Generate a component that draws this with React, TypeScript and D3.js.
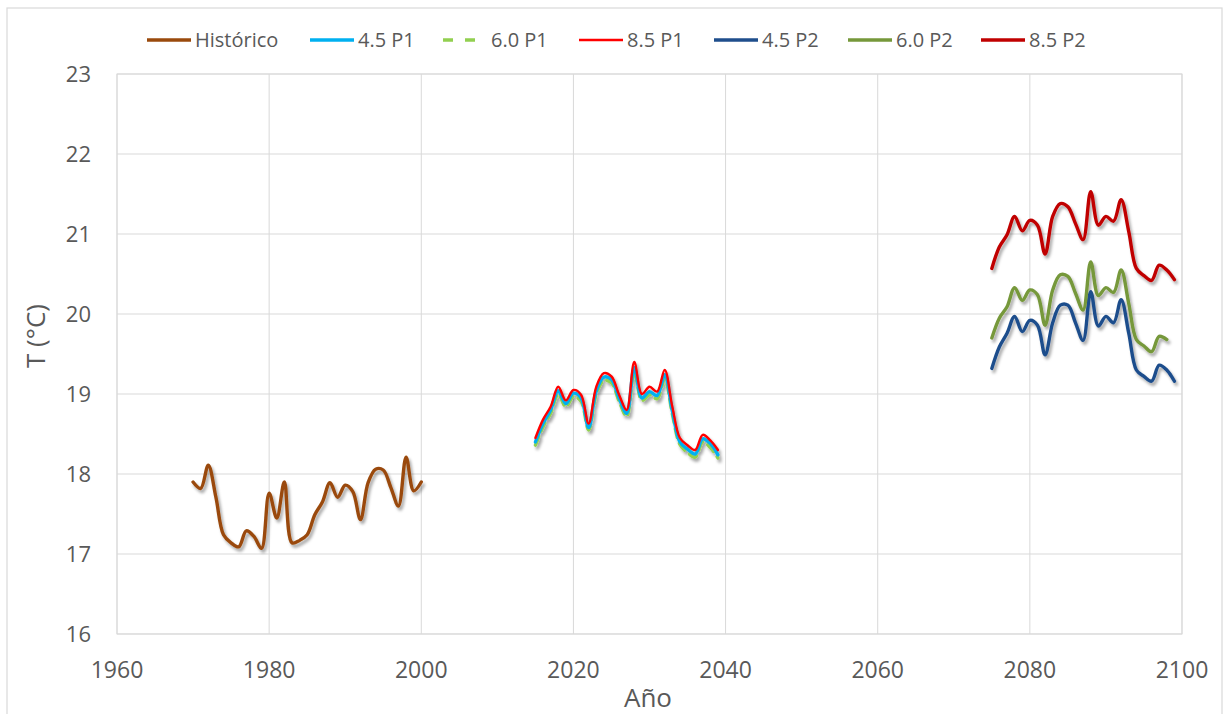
import React from "react";
import * as d3 from "d3";

// Mean annual temperature (°C): historical record and two projection periods
const histYears = d3.range(1970, 2001);
const histTemp = [
  17.9, 17.82, 18.11, 17.71, 17.24, 17.14, 17.09, 17.29, 17.22, 17.07,
  17.76, 17.45, 17.9, 17.14, 17.17, 17.24, 17.49, 17.65, 17.89, 17.71,
  17.86, 17.78, 17.43, 17.89, 18.06, 18.05, 17.83, 17.6, 18.21, 17.79, 17.9,
];

const p1Years = d3.range(2015, 2040);
const rcp45P1 = [
  18.4, 18.63, 18.8, 19.04, 18.88, 19.01, 18.95, 18.58, 19.04, 19.21,
  19.18, 18.95, 18.76, 19.33, 18.95, 19.03, 18.98, 19.24, 18.79, 18.4,
  18.31, 18.25, 18.44, 18.38, 18.24,
];
const rcp60P1 = [
  18.36, 18.59, 18.76, 19.0, 18.84, 18.97, 18.91, 18.55, 19.0, 19.17,
  19.14, 18.91, 18.72, 19.28, 18.92, 18.99, 18.94, 19.19, 18.75, 18.37,
  18.27, 18.21, 18.4, 18.33, 18.2,
];
const rcp85P1 = [
  18.45, 18.68, 18.84, 19.09, 18.92, 19.05, 18.99, 18.63, 19.09, 19.26,
  19.22, 18.99, 18.8, 19.4, 19.0, 19.09, 19.03, 19.3, 18.84, 18.45,
  18.36, 18.3, 18.49, 18.42, 18.3,
];

const p2Years = d3.range(2075, 2100);
const rcp45P2 = [
  19.32, 19.59, 19.76, 19.97, 19.78, 19.92, 19.86, 19.49, 19.89, 20.11,
  20.11, 19.89, 19.67, 20.28, 19.85, 19.97, 19.89, 20.18, 19.76, 19.3,
  19.22, 19.16, 19.36, 19.3, 19.16,
];
const rcp60P2 = [
  19.7, 19.95, 20.09, 20.33, 20.17, 20.3, 20.24, 19.86, 20.3, 20.49,
  20.47, 20.26, 20.05, 20.65, 20.23, 20.33, 20.27, 20.55, 20.13, 19.68,
  19.6, 19.53, 19.72, 19.68,
];
const rcp85P2 = [
  20.57, 20.84, 20.99, 21.22, 21.04, 21.17, 21.11, 20.75, 21.22, 21.38,
  21.34, 21.13, 20.93, 21.53, 21.11, 21.22, 21.16, 21.43, 21.03, 20.57,
  20.48, 20.42, 20.61, 20.55, 20.43,
];

const xTicks = [1960, 1980, 2000, 2020, 2040, 2060, 2080, 2100];
const yTicks = [16, 17, 18, 19, 20, 21, 22, 23];

type Series = {
  name: string;
  years: number[];
  values: number[];
  color: string;
  width: number;
  dash?: string;
};

const series: Series[] = [
  { name: "Histórico", years: histYears, values: histTemp, color: "#9A4A0C", width: 3.4 },
  { name: "4.5 P1", years: p1Years, values: rcp45P1, color: "#00B0F0", width: 3.4 },
  { name: "6.0 P1", years: p1Years, values: rcp60P1, color: "#92D050", width: 3.4, dash: "9,6" },
  { name: "8.5 P1", years: p1Years, values: rcp85P1, color: "#FF0000", width: 2.4 },
  { name: "4.5 P2", years: p2Years, values: rcp45P2, color: "#1F4E8C", width: 3.4 },
  { name: "6.0 P2", years: p2Years, values: rcp60P2, color: "#76983A", width: 3.4 },
  { name: "8.5 P2", years: p2Years, values: rcp85P2, color: "#C00000", width: 3.4 },
];

// draw order: the 6.0 P1 dashes sit under the 4.5 P1 line
const drawOrder = [0, 2, 1, 3, 4, 5, 6];

const W = 1223;
const H = 714;
const plot = { left: 117, right: 1182, top: 74, bottom: 634 };
const legendX = [147, 310, 443, 579, 714, 848, 981];
const legendY = 40;

const FONT = "'Open Sans', 'Noto Sans', sans-serif";
const TEXT = "#595959";

export default function App() {
  const x = d3.scaleLinear().domain([1960, 2100]).range([plot.left, plot.right]);
  const y = d3.scaleLinear().domain([16, 23]).range([plot.bottom, plot.top]);

  const line = d3
    .line<[number, number]>()
    .x((d) => x(d[0]))
    .y((d) => y(d[1]))
    .curve(d3.curveCatmullRom.alpha(0.5));

  return (
    <svg
      width={W}
      height={H}
      style={{ position: "absolute", left: 0, top: 0, background: "#fff" }}
      fontFamily={FONT}
    >
      <defs>
        <filter id="shadow" x="-10%" y="-10%" width="120%" height="130%">
          <feDropShadow dx="2" dy="3" stdDeviation="1.6" floodColor="#000" floodOpacity="0.35" />
        </filter>
      </defs>
      <rect x={0} y={0} width={W} height={H} fill="#fff" />
      <rect x={7} y={8} width={W - 8} height={H} fill="none" stroke="#d9d9d9" strokeWidth={1.2} />

      {/* grid */}
      {xTicks.map((t) => (
        <line key={"gx" + t} x1={x(t)} x2={x(t)} y1={plot.top} y2={plot.bottom} stroke="#d9d9d9" strokeWidth={1} />
      ))}
      {yTicks.map((t) => (
        <line key={"gy" + t} x1={plot.left} x2={plot.right} y1={y(t)} y2={y(t)} stroke="#d9d9d9" strokeWidth={1} />
      ))}
      <rect
        x={plot.left}
        y={plot.top}
        width={plot.right - plot.left}
        height={plot.bottom - plot.top}
        fill="none"
        stroke="#d9d9d9"
        strokeWidth={1}
      />

      {/* tick labels */}
      {xTicks.map((t) => (
        <text key={"tx" + t} x={x(t)} y={678} textAnchor="middle" fontSize={23} fill={TEXT}>
          {t}
        </text>
      ))}
      {yTicks.map((t) => (
        <text key={"ty" + t} x={91} y={y(t)} dy="0.36em" textAnchor="end" fontSize={22} fill={TEXT}>
          {t}
        </text>
      ))}

      {/* axis titles */}
      <text x={648} y={707} textAnchor="middle" fontSize={26} fill={TEXT}>
        Año
      </text>
      <text
        transform={`translate(45, 336) rotate(-90)`}
        textAnchor="middle"
        fontSize={26}
        fill={TEXT}
      >
        T (°C)
      </text>

      {/* series */}
      <g filter="url(#shadow)">
        {drawOrder.map((i) => {
          const s = series[i];
          const pts = s.values.map((v, k) => [s.years[k], v] as [number, number]);
          return (
            <path
              key={s.name}
              d={line(pts) ?? ""}
              fill="none"
              stroke={s.color}
              strokeWidth={s.width}
              strokeDasharray={s.dash}
              strokeLinejoin="round"
              strokeLinecap="round"
            />
          );
        })}
      </g>

      {/* legend */}
      {series.map((s, i) => (
        <g key={"lg" + s.name} transform={`translate(${legendX[i]}, ${legendY})`}>
          <line
            x1={0}
            x2={44}
            y1={0}
            y2={0}
            stroke={s.color}
            strokeWidth={s.width}
            strokeDasharray={s.dash ? "10,12" : undefined}
          />
          <text x={48} y={0} dy="0.36em" fontSize={20} fill={TEXT}>
            {s.name}
          </text>
        </g>
      ))}
    </svg>
  );
}
